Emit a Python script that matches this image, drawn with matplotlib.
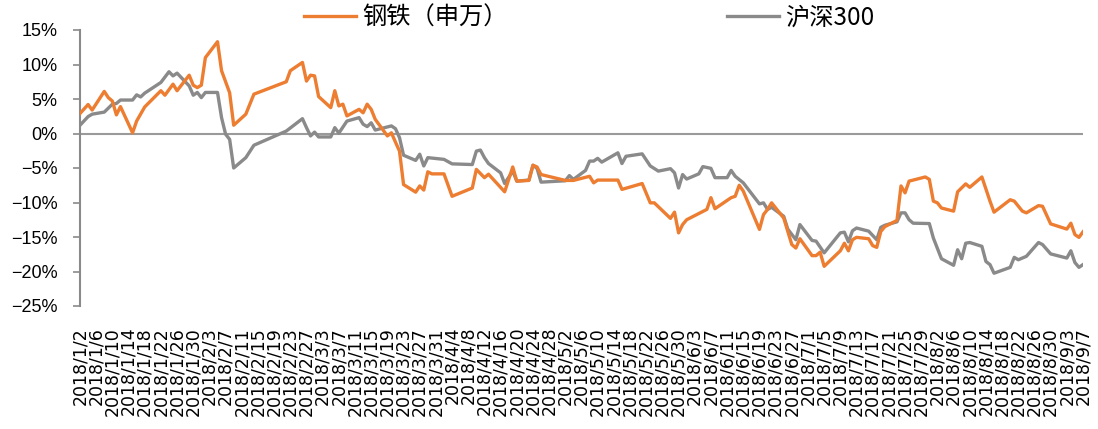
import matplotlib
matplotlib.use("Agg")
import matplotlib.pyplot as plt
import pandas as pd

plt.rcParams['font.family'] = ['Liberation Sans', 'Noto Sans CJK SC', 'DejaVu Sans']

# steel index (SW) cumulative change, %
steel_dates = ["1/2", "1/4", "1/5", "1/8", "1/9", "1/10", "1/11", "1/12", "1/15", "1/16",
               "1/18", "1/22", "1/23", "1/25", "1/26", "1/29", "1/30", "1/31", "2/1", "2/2",
               "2/5", "2/6", "2/8", "2/9", "2/12", "2/14", "2/22", "2/23", "2/26", "2/27",
               "2/28", "3/1", "3/2", "3/5", "3/6", "3/7", "3/8", "3/9", "3/12", "3/13",
               "3/14", "3/15", "3/16", "3/19", "3/20", "3/21", "3/22", "3/23", "3/26", "3/27",
               "3/28", "3/29", "3/30", "4/2", "4/4", "4/9", "4/10", "4/11", "4/12", "4/13",
               "4/17", "4/19", "4/20", "4/23", "4/24", "4/25", "4/26", "5/2", "5/4", "5/8",
               "5/9", "5/10", "5/15", "5/16", "5/21", "5/23", "5/24", "5/28", "5/29", "5/30",
               "5/31", "6/1", "6/6", "6/7", "6/8", "6/12", "6/13", "6/14", "6/15", "6/19",
               "6/20", "6/21", "6/22", "6/25", "6/27", "6/28", "6/29", "7/2", "7/3", "7/4",
               "7/5", "7/9", "7/10", "7/11", "7/12", "7/13", "7/16", "7/17", "7/18", "7/19",
               "7/20", "7/23", "7/24", "7/25", "7/26", "7/30", "7/31", "8/1", "8/2", "8/3",
               "8/6", "8/7", "8/9", "8/10", "8/13", "8/15", "8/16", "8/20", "8/21", "8/23",
               "8/24", "8/27", "8/28", "8/30", "9/3", "9/4", "9/5", "9/6", "9/7"]
steel_vals = [2.9, 4.2, 3.4, 6.1, 5.2, 4.7, 2.7, 3.9, 0.1, 1.8,
              3.85, 6.2, 5.55, 7.15, 6.2, 8.45, 7.0, 6.65, 7.0, 11.0,
              13.3, 9.1, 5.9, 1.2, 2.8, 5.7, 7.5, 9.1, 10.3, 7.6,
              8.45, 8.35, 5.35, 3.75, 6.2, 4.0, 4.25, 2.55, 3.5, 3.0,
              4.25, 3.5, 2.05, -0.35, 0.1, -1.25, -2.55, -7.4, -8.5, -7.6,
              -8.2, -5.55, -5.85, -5.85, -9.1, -7.9, -5.2, -5.8, -6.4, -5.9,
              -8.45, -4.85, -6.9, -6.8, -4.6, -4.85, -5.95, -6.8, -6.8, -6.2,
              -7.15, -6.75, -6.75, -8.1, -7.25, -10.05, -10.05, -12.3, -11.4, -14.4,
              -13.2, -12.5, -11.0, -9.3, -10.9, -9.3, -9.1, -7.5, -8.35, -13.9,
              -11.75, -11.0, -10.05, -12.25, -16.1, -16.6, -15.25, -17.7, -17.7, -17.2,
              -19.25, -17.0, -15.9, -17.0, -15.4, -15.05, -15.25, -16.25, -16.5, -14.2,
              -13.5, -12.6, -7.6, -8.6, -6.9, -6.3, -6.65, -9.8, -10.05, -10.8,
              -11.25, -8.45, -7.3, -7.8, -6.3, -9.8, -11.4, -9.6, -9.8, -11.25,
              -11.5, -10.45, -10.55, -13.1, -13.85, -13.0, -14.65, -15.05, -14.25]

# CSI 300 cumulative change, %
hs300_dates = ["1/2", "1/4", "1/5", "1/8", "1/10", "1/11", "1/12", "1/15", "1/16", "1/17",
               "1/18", "1/22", "1/24", "1/25", "1/26", "1/29", "1/30", "1/31", "2/1", "2/2",
               "2/5", "2/6", "2/7", "2/8", "2/9", "2/12", "2/14", "2/22", "2/26", "2/27",
               "2/28", "3/1", "3/2", "3/5", "3/6", "3/7", "3/9", "3/12", "3/13", "3/14",
               "3/15", "3/16", "3/20", "3/21", "3/22", "3/23", "3/26", "3/27", "3/28", "3/29",
               "4/2", "4/4", "4/9", "4/10", "4/11", "4/12", "4/13", "4/16", "4/17", "4/19",
               "4/20", "4/23", "4/24", "4/25", "4/26", "5/2", "5/3", "5/4", "5/7", "5/8",
               "5/9", "5/10", "5/11", "5/15", "5/16", "5/17", "5/21", "5/23", "5/25", "5/28",
               "5/29", "5/30", "5/31", "6/1", "6/4", "6/5", "6/7", "6/8", "6/11", "6/12",
               "6/13", "6/15", "6/19", "6/20", "6/21", "6/22", "6/25", "6/26", "6/28", "6/29",
               "7/2", "7/3", "7/5", "7/9", "7/10", "7/11", "7/12", "7/13", "7/16", "7/18",
               "7/19", "7/20", "7/23", "7/24", "7/25", "7/26", "7/27", "7/31", "8/1", "8/3",
               "8/6", "8/7", "8/8", "8/9", "8/10", "8/13", "8/14", "8/15", "8/16", "8/20",
               "8/21", "8/22", "8/24", "8/27", "8/28", "8/30", "9/3", "9/4", "9/5", "9/6",
               "9/7"]
hs300_vals = [1.2, 2.45, 2.8, 3.1, 4.25, 4.35, 4.85, 4.85, 5.6, 5.3,
              5.85, 7.4, 8.95, 8.35, 8.75, 6.9, 5.55, 5.95, 5.2, 5.95,
              5.95, 2.3, -0.1, -0.85, -5.0, -3.5, -1.7, 0.35, 2.15, 0.85,
              -0.35, 0.2, -0.5, -0.5, 0.85, 0.05, 1.8, 2.3, 1.35, 1.0,
              1.55, 0.5, 1.1, 0.7, -0.6, -3.15, -3.9, -3.0, -4.7, -3.5,
              -3.75, -4.4, -4.5, -2.55, -2.4, -3.5, -4.35, -5.7, -7.25, -5.45,
              -6.9, -6.75, -4.6, -5.05, -7.05, -6.85, -6.1, -6.65, -5.35, -4.0,
              -4.0, -3.6, -4.15, -2.8, -4.35, -3.3, -2.95, -4.7, -5.45, -5.1,
              -5.7, -7.9, -5.95, -6.6, -5.85, -4.8, -5.05, -6.4, -6.4, -5.35,
              -6.2, -7.15, -10.2, -10.05, -11.0, -10.7, -12.0, -13.85, -15.4, -13.2,
              -15.5, -15.6, -17.3, -14.4, -14.3, -15.7, -14.1, -13.7, -14.15, -15.4,
              -13.6, -13.3, -12.8, -11.5, -11.5, -12.5, -13.0, -13.05, -15.15, -18.15,
              -19.1, -16.85, -18.15, -15.9, -15.8, -16.35, -18.55, -19.0, -20.25, -19.4,
              -17.95, -18.3, -17.8, -15.8, -16.1, -17.45, -18.05, -17.0, -18.7, -19.4,
              -19.0]

y_ticks = [15, 10, 5, 0, -5, -10, -15, -20, -25]

steel_x = pd.to_datetime(["2018/" + d for d in steel_dates])
hs300_x = pd.to_datetime(["2018/" + d for d in hs300_dates])

fig = plt.figure(figsize=(10.98, 4.29), dpi=100)
ax = fig.add_axes([80 / 1098, 1 - 306 / 429, (1083 - 80) / 1098, (306 - 30) / 429])

ax.axhline(0, color="#9a9a9a", lw=1.5, zorder=1)
ax.plot(steel_x, steel_vals, color="#ED7D31", lw=2.4, label="钢铁（申万）", zorder=3)
ax.plot(hs300_x, hs300_vals, color="#8A8A8A", lw=2.4, label="沪深300", zorder=2)

start = pd.Timestamp("2018-01-02")
end = pd.Timestamp("2018-09-07")
ax.set_xlim(start, end)
ax.set_ylim(-25, 15)

# date axis, one label every 4 days
ticks = pd.date_range(start, end, freq="4D")
ax.set_xticks(ticks)
ax.set_xticklabels([f"{t.year}/{t.month}/{t.day}" for t in ticks], rotation=90,
                   fontsize=12.5, family="DejaVu Sans", va="top", ha="center")
ax.tick_params(axis="x", length=0, pad=15)

ax.set_yticks(y_ticks)
ax.set_yticklabels([f"{v}%".replace("-", "\u2212") for v in y_ticks], fontsize=13)
ax.tick_params(axis="y", length=5, width=1.2, color="#8a8a8a", pad=11)

for side in ["top", "right", "bottom"]:
    ax.spines[side].set_visible(False)
ax.spines["left"].set_color("#8a8a8a")
ax.spines["left"].set_linewidth(1.5)

fig.legend(loc="center", bbox_to_anchor=(589 / 1098, 1 - 18 / 429), ncol=2, frameon=False,
           handlelength=2.15, handletextpad=0.25, columnspacing=9.0,
           prop={"family": ["Noto Sans CJK SC", "DejaVu Sans"], "size": 17.5})

fig.savefig("out.png", dpi=100)
